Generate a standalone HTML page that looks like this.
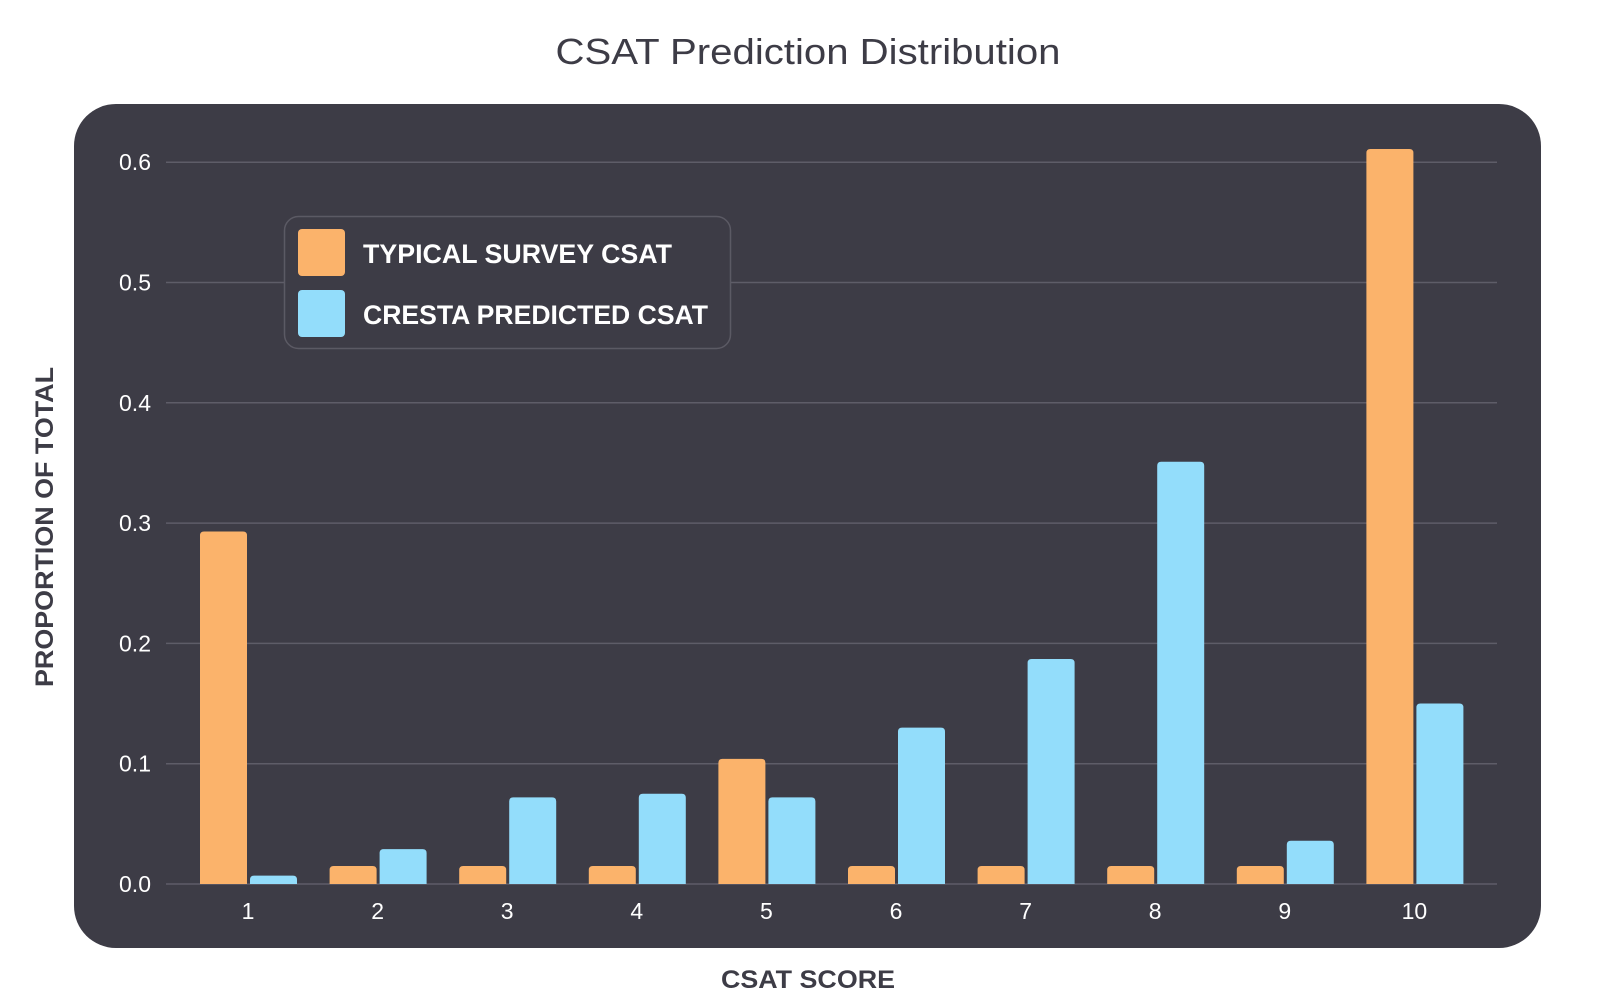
<!DOCTYPE html>
<html><head><meta charset="utf-8"><style>
html,body{margin:0;padding:0;background:#fff;}
svg{display:block;font-family:"Liberation Sans",sans-serif;}
</style></head><body>
<svg id="chart" width="1600" height="1007" viewBox="0 0 1600 1007">
<text x="808" y="64" text-anchor="middle" font-size="36" fill="#3d3c46" textLength="505" lengthAdjust="spacingAndGlyphs">CSAT Prediction Distribution</text>
<rect x="74" y="104" width="1467" height="844" rx="42" fill="#3d3c46"/>
<g id="grid"></g>
<g id="bars"></g>
<g id="ticks"></g>
<text transform="translate(53,527) rotate(-90)" text-anchor="middle" font-size="25" font-weight="bold" fill="#3d3c46" textLength="320" lengthAdjust="spacingAndGlyphs">PROPORTION OF TOTAL</text>
<text x="808" y="988" text-anchor="middle" font-size="25" font-weight="bold" fill="#3d3c46" textLength="174" lengthAdjust="spacingAndGlyphs">CSAT SCORE</text>
<g>
<rect x="284.5" y="216.5" width="446" height="132" rx="14" fill="#3d3c46" stroke="#5b5a64" stroke-width="1.5"/>
<rect x="298" y="229" width="47" height="47" rx="4" fill="#fbb36b"/>
<text x="363" y="263" font-size="27" font-weight="bold" fill="#fff" textLength="309" lengthAdjust="spacingAndGlyphs">TYPICAL SURVEY CSAT</text>
<rect x="298" y="290" width="47" height="47" rx="4" fill="#93ddfb"/>
<text x="363" y="324" font-size="27" font-weight="bold" fill="#fff" textLength="345" lengthAdjust="spacingAndGlyphs">CRESTA PREDICTED CSAT</text>
</g>
</svg>
<script>
const categories = ["1","2","3","4","5","6","7","8","9","10"];
const typicalValues = [0.293,0.015,0.015,0.015,0.104,0.015,0.015,0.015,0.015,0.611];
const crestaValues = [0.007,0.029,0.072,0.075,0.072,0.130,0.187,0.351,0.036,0.150];
const yTicks = [0,0.1,0.2,0.3,0.4,0.5,0.6];
const yTickLabels = ["0.0","0.1","0.2","0.3","0.4","0.5","0.6"];

const NS = "http://www.w3.org/2000/svg";
const y0 = 884, pxPer = 1203;
function yScale(v){ return y0 - v*pxPer; }
function xCenter(i){ return 248 + i*129.6; }
function mk(tag, attrs, parent){
  const e = document.createElementNS(NS, tag);
  for (const k in attrs) e.setAttribute(k, attrs[k]);
  parent.appendChild(e); return e;
}
const grid = document.getElementById('grid');
const ticks = document.getElementById('ticks');
const bars = document.getElementById('bars');
yTicks.forEach((t,i)=>{
  const ln = mk('line',{x1:166,x2:1497,y1:yScale(t),y2:yScale(t),stroke:'#5e5d68','stroke-width':1.5},grid);
  
  
  const tx = mk('text',{x:151,y:yScale(t)+8,'text-anchor':'end','font-size':23,fill:'#fff'},ticks);
  tx.textContent = yTickLabels[i];
  
  
});
function bar(x,v,color){
  const h = v*pxPer, y = yScale(v), r = Math.min(4,h/2), w = 47;
  const d = `M${x},${y0} L${x},${y+r} Q${x},${y} ${x+r},${y} L${x+w-r},${y} Q${x+w},${y} ${x+w},${y+r} L${x+w},${y0} Z`;
  return mk('path',{d:d,fill:color},bars);
}
categories.forEach((c,i)=>{
  const cx = xCenter(i);
  const b1 = bar(cx-48, typicalValues[i], '#fbb36b');
  
  
  const b2 = bar(cx+2, crestaValues[i], '#93ddfb');
  
  
  const tx = mk('text',{x:cx,y:919,'text-anchor':'middle','font-size':23,fill:'#fff'},ticks);
  tx.textContent = c;
  
  
});
</script>
</body></html>
